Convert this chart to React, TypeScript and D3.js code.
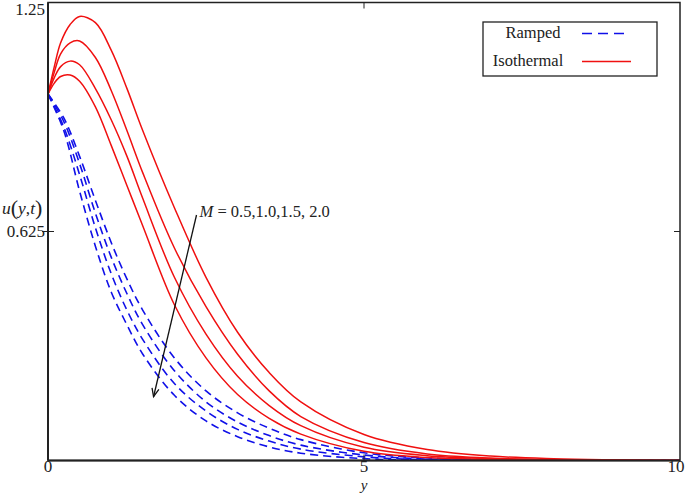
import * as d3 from 'd3'

// velocity profiles u(y,t) for M = 0.5, 1.0, 1.5, 2.0
const isoY = [0, 0.1, 0.2, 0.35, 0.5, 0.75, 1, 1.25, 1.5, 2, 2.5, 3, 3.5, 4, 5, 6, 7, 8, 10]
const isoM05 = [1, 1.075, 1.14, 1.19, 1.212, 1.195, 1.12, 1.015, 0.9, 0.69, 0.5, 0.35, 0.24, 0.16, 0.071, 0.03, 0.012, 0.005, 0]
const isoM10 = [1, 1.06, 1.11, 1.14, 1.145, 1.1, 1.01, 0.9, 0.785, 0.58, 0.42, 0.29, 0.19, 0.12, 0.049, 0.018, 0.007, 0.002, 0]
const isoM15 = [1, 1.045, 1.075, 1.09, 1.08, 1.015, 0.93, 0.83, 0.715, 0.5, 0.345, 0.23, 0.15, 0.095, 0.036, 0.013, 0.005, 0.002, 0]
const isoM20 = [1, 1.03, 1.048, 1.052, 1.035, 0.965, 0.86, 0.75, 0.64, 0.425, 0.28, 0.18, 0.115, 0.072, 0.025, 0.008, 0.003, 0.001, 0]

const rampY = [0, 0.25, 0.5, 0.75, 1, 1.25, 1.5, 2, 2.5, 3, 3.5, 4, 5, 6, 8, 10]
const rampM05 = [1, 0.935, 0.83, 0.71, 0.595, 0.495, 0.41, 0.28, 0.19, 0.13, 0.088, 0.057, 0.021, 0.007, 0.001, 0]
const rampM10 = [1, 0.925, 0.81, 0.675, 0.555, 0.455, 0.37, 0.245, 0.16, 0.105, 0.068, 0.042, 0.015, 0.004, 0, 0]
const rampM15 = [1, 0.91, 0.78, 0.635, 0.51, 0.41, 0.33, 0.21, 0.135, 0.085, 0.053, 0.031, 0.01, 0.002, 0, 0]
const rampM20 = [1, 0.9, 0.735, 0.585, 0.46, 0.37, 0.29, 0.178, 0.108, 0.065, 0.037, 0.02, 0.005, 0.001, 0, 0]

const xTicks = [0, 5, 10]
const yTicks = [0.625]

const serif = '"Liberation Serif", "Times New Roman", serif'

export default function App() {
  const width = 685
  const height = 494
  const left = 48
  const right = 680
  const top = 2.5
  const bottom = 460.5

  const x = d3.scaleLinear().domain([0, 10]).range([left, right])
  const y = d3.scaleLinear().domain([0, 1.25]).range([bottom, top])

  const line = d3.line<[number, number]>()
    .x(d => x(d[0]))
    .y(d => y(d[1]))
    .curve(d3.curveCatmullRom.alpha(0.5))

  const iso = [isoM05, isoM10, isoM15, isoM20]
  const ramp = [rampM05, rampM10, rampM15, rampM20]

  // annotation arrow (data coords)
  const a0 = [2.35, 0.67]
  const a1 = [1.67, 0.174]
  const ang = Math.atan2(y(a1[1]) - y(a0[1]), x(a1[0]) - x(a0[0]))
  const head = 9
  const spread = 0.4
  const tipX = x(a1[0])
  const tipY = y(a1[1])

  return (
    <div style={{ position: 'fixed', left: 0, top: 0 }}>
      <svg width={width} height={height} style={{ display: 'block', background: '#fff' }}>
        <defs>
          <clipPath id="plot">
            <rect x={left} y={top} width={right - left} height={bottom - top} />
          </clipPath>
        </defs>

        <g clipPath="url(#plot)">
          {ramp.map((vals, i) => (
            <path key={'r' + i}
              d={line(rampY.map((v, j) => [v, vals[j]] as [number, number])) || ''}
              fill="none" stroke="#1010e8" strokeWidth={1.6} strokeDasharray="8,5" />
          ))}
          {iso.map((vals, i) => (
            <path key={'i' + i}
              d={line(isoY.map((v, j) => [v, vals[j]] as [number, number])) || ''}
              fill="none" stroke="#f01010" strokeWidth={1.5} />
          ))}
        </g>

        {/* frame */}
        <rect x={left} y={top} width={right - left} height={bottom - top}
          fill="none" stroke="#222" strokeWidth={1.5} />
        <line x1={left} x2={left} y1={top} y2={bottom} stroke="#222" strokeWidth={2} />
        <line x1={left} x2={right} y1={bottom} y2={bottom} stroke="#222" strokeWidth={2} />

        {/* ticks */}
        {xTicks.slice(1, -1).map(t => (
          <g key={'xt' + t}>
            <line x1={x(t)} x2={x(t)} y1={bottom} y2={bottom - 6} stroke="#222" strokeWidth={1} />
            <line x1={x(t)} x2={x(t)} y1={top} y2={top + 6} stroke="#222" strokeWidth={1} />
          </g>
        ))}
        {yTicks.map(t => (
          <g key={'yt' + t}>
            <line x1={left - 6} x2={left + 6} y1={y(t)} y2={y(t)} stroke="#222" strokeWidth={1} />
            <line x1={right - 6} x2={right} y1={y(t)} y2={y(t)} stroke="#222" strokeWidth={1} />
          </g>
        ))}

        {/* tick labels */}
        <g fontFamily={serif} fontSize={17} fill="#222">
          <text x={left - 3} y={top + 12} textAnchor="end">1.25</text>
          {yTicks.map(t => (
            <text key={'yl' + t} x={left - 3} y={y(t) + 5} textAnchor="end">{t}</text>
          ))}
          {xTicks.map(t => (
            <text key={'xl' + t} x={t === 10 ? x(t) - 4 : x(t)} y={472} textAnchor="middle">{t}</text>
          ))}
          <text x={x(5)} y={490} fontSize={15} textAnchor="middle" fontStyle="italic">y</text>
          <text x={2} y={214} fontSize={17.5}>
            <tspan fontStyle="italic">u</tspan>
            <tspan fontSize={22} dy={1}>(</tspan>
            <tspan fontStyle="italic" dy={-1}>y</tspan>
            <tspan>,</tspan>
            <tspan fontStyle="italic">t</tspan>
            <tspan fontSize={22} dy={1}>)</tspan>
          </text>
        </g>

        {/* annotation */}
        <line x1={x(a0[0])} y1={y(a0[1])} x2={tipX} y2={tipY} stroke="#111" strokeWidth={1.3} />
        <path
          d={`M${tipX - head * Math.cos(ang - spread)},${tipY - head * Math.sin(ang - spread)}L${tipX},${tipY}L${tipX - head * Math.cos(ang + spread)},${tipY - head * Math.sin(ang + spread)}`}
          fill="none" stroke="#111" strokeWidth={1.3} />
        <text x={x(a0[0]) + 3} y={y(a0[1]) + 2} fontFamily={serif} fontSize={16.5} fill="#222">
          <tspan fontStyle="italic">M</tspan> = 0.5,1.0,1.5, 2.0
        </text>

        {/* legend */}
        <g fontFamily={serif} fontSize={16.5} fill="#222">
          <rect x={483} y={22} width={174} height={54} fill="#fff" stroke="#222" strokeWidth={1.3} />
          <text x={533} y={38} textAnchor="middle">Ramped</text>
          <line x1={582} x2={628} y1={33.5} y2={33.5} stroke="#1010e8" strokeWidth={1.6} strokeDasharray="10,6" />
          <text x={528} y={66} textAnchor="middle">Isothermal</text>
          <line x1={582} x2={631} y1={61.5} y2={61.5} stroke="#f01010" strokeWidth={1.6} />
        </g>
      </svg>
    </div>
  )
}
